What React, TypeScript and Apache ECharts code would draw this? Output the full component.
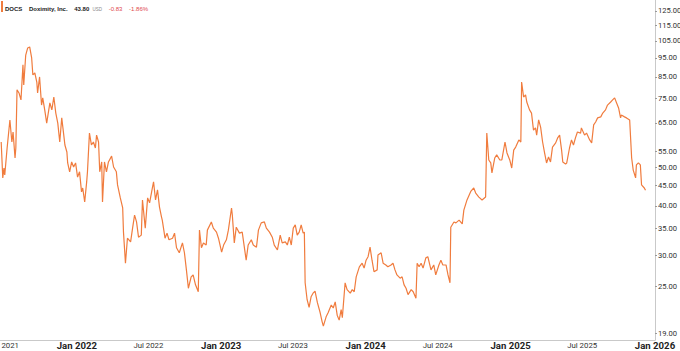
import React, { useEffect, useRef } from "react";
import * as echarts from "echarts";

const dates: string[] = [
  "2021-06-24","2021-06-28","2021-07-01","2021-07-03","2021-07-09","2021-07-16","2021-07-21","2021-07-24","2021-07-29","2021-07-31",
  "2021-08-03","2021-08-08","2021-08-13","2021-08-18","2021-08-20","2021-08-25","2021-08-30","2021-09-04","2021-09-09","2021-09-12",
  "2021-09-17","2021-09-22","2021-09-24","2021-09-29","2021-10-04","2021-10-07","2021-10-12","2021-10-17","2021-10-25","2021-10-30",
  "2021-11-04","2021-11-09","2021-11-14","2021-11-19","2021-11-24","2021-11-27","2021-12-02","2021-12-07","2021-12-09","2021-12-14",
  "2021-12-19","2021-12-24","2021-12-29","2022-01-03","2022-01-08","2022-01-13","2022-01-16","2022-01-21","2022-01-26","2022-01-28",
  "2022-02-02","2022-02-07","2022-02-12","2022-02-17","2022-02-20","2022-02-25","2022-02-28","2022-03-05","2022-03-07","2022-03-12",
  "2022-03-17","2022-03-22","2022-03-30","2022-04-04","2022-04-11","2022-04-14","2022-04-21","2022-04-27","2022-04-29","2022-05-04",
  "2022-05-09","2022-05-17","2022-05-22","2022-05-27","2022-06-01","2022-06-06",
  "2022-06-13","2022-06-16","2022-06-23","2022-06-29","2022-07-04","2022-07-11","2022-07-14","2022-07-19","2022-07-24","2022-07-29",
  "2022-08-03","2022-08-05","2022-08-12","2022-08-17","2022-08-22","2022-08-31","2022-09-05","2022-09-10","2022-09-17","2022-09-25",
  "2022-09-30","2022-10-05","2022-10-10","2022-10-17","2022-10-22","2022-10-28","2022-11-04","2022-11-07","2022-11-12","2022-11-17",
  "2022-11-24","2022-11-27","2022-12-07","2022-12-12","2022-12-20","2022-12-25","2023-01-02","2023-01-07","2023-01-14","2023-01-19",
  "2023-01-27","2023-01-29","2023-02-03","2023-02-08","2023-02-16","2023-02-23","2023-03-05","2023-03-10","2023-03-18","2023-03-23",
  "2023-03-31","2023-04-05","2023-04-12","2023-04-20","2023-04-25","2023-05-03","2023-05-10","2023-05-15","2023-05-23","2023-05-30",
  "2023-06-04","2023-06-12","2023-06-17","2023-06-22",
  "2023-06-27","2023-07-02","2023-07-07","2023-07-12","2023-07-17","2023-07-22","2023-07-27","2023-07-30","2023-08-01","2023-08-06",
  "2023-08-11","2023-08-16","2023-08-21","2023-08-26","2023-09-01","2023-09-08","2023-09-13","2023-09-16","2023-09-23","2023-09-28",
  "2023-10-06","2023-10-11","2023-10-16","2023-10-21","2023-10-26","2023-10-31","2023-11-03","2023-11-10","2023-11-15","2023-11-23",
  "2023-11-28","2023-12-03","2023-12-08","2023-12-16","2023-12-23","2023-12-28","2024-01-02","2024-01-07","2024-01-12","2024-01-17",
  "2024-01-22","2024-01-30","2024-02-01","2024-02-09","2024-02-14","2024-02-21","2024-02-26","2024-03-05","2024-03-10","2024-03-15",
  "2024-03-20","2024-03-28","2024-04-02","2024-04-07","2024-04-12","2024-04-17","2024-04-25","2024-04-30","2024-05-07","2024-05-10",
  "2024-05-15","2024-05-20","2024-05-25","2024-06-01","2024-06-06",
  "2024-06-14","2024-06-21","2024-06-26","2024-07-04","2024-07-09","2024-07-14","2024-07-22","2024-07-27","2024-08-01","2024-08-03",
  "2024-08-11","2024-08-16","2024-08-24","2024-09-01","2024-09-05","2024-09-13","2024-09-23","2024-09-30","2024-10-05","2024-10-13",
  "2024-10-21","2024-10-30","2024-11-02","2024-11-07","2024-11-12","2024-11-15","2024-11-22","2024-11-27","2024-12-05","2024-12-10",
  "2024-12-18","2024-12-23","2024-12-30","2025-01-04","2025-01-09","2025-01-14","2025-01-22","2025-01-27","2025-01-29","2025-02-03",
  "2025-02-08","2025-02-11","2025-02-18","2025-02-23","2025-02-28","2025-03-05","2025-03-08","2025-03-13","2025-03-18","2025-03-23",
  "2025-03-28","2025-04-02","2025-04-07","2025-04-12","2025-04-17","2025-04-25","2025-04-30","2025-05-05","2025-05-10","2025-05-13",
  "2025-05-20","2025-05-23","2025-05-30","2025-06-04","2025-06-09","2025-06-14","2025-06-19","2025-06-27","2025-06-29","2025-07-07",
  "2025-07-12","2025-07-20","2025-07-25","2025-07-30","2025-08-04","2025-08-09","2025-08-17","2025-08-22","2025-08-29","2025-09-03",
  "2025-09-11","2025-09-16","2025-09-21","2025-09-26","2025-10-01","2025-10-06","2025-10-08","2025-10-16","2025-10-21","2025-10-29",
  "2025-11-03","2025-11-07","2025-11-13","2025-11-15","2025-11-20","2025-11-25","2025-11-28","2025-12-05","2025-12-08",
];

const prices: number[] = [
  58.1,47.1,49.9,47.9,56.1,66.1,58.1,61.6,52.9,56.1,
  78.8,77.4,74.3,91.2,81.1,96.6,100.7,101.3,95.0,86.0,
  87.0,82.5,77.4,85.0,72.1,75.2,70.1,64.9,73.0,70.1,
  75.6,68.8,64.9,58.1,66.9,63.1,57.1,54.8,51.4,48.8,
  51.7,50.2,51.4,47.3,48.8,43.4,44.4,40.9,46.0,48.8,
  61.2,57.1,58.1,56.1,60.5,58.1,48.8,51.7,40.9,51.7,
  48.8,51.7,53.5,50.2,48.8,45.2,41.9,39.5,34.3,28.6,
  33.1,32.4,35.1,37.9,36.4,33.3,
  33.7,41.4,35.1,41.9,40.7,44.4,46.0,41.4,43.9,39.7,
  37.5,36.8,33.1,34.1,32.8,33.1,34.1,31.3,30.4,32.2,
  30.4,27.5,24.7,26.4,26.7,25.2,24.2,34.7,31.3,32.2,
  31.8,34.7,36.4,35.1,34.3,33.1,30.5,31.8,32.8,34.7,
  39.5,37.9,32.2,35.3,34.1,34.3,29.1,31.8,32.8,31.8,
  31.4,34.7,36.2,36.4,35.1,34.3,33.3,31.8,30.9,33.7,
  32.2,32.4,31.8,33.3,
  31.8,35.1,35.8,33.7,34.3,35.8,34.1,34.3,25.5,23.1,
  22.1,23.5,24.0,24.3,22.7,21.4,20.3,19.8,20.9,21.4,
  22.4,22.0,22.8,21.1,20.5,21.8,20.8,25.5,24.5,24.0,
  24.5,24.2,26.4,28.0,28.6,27.8,29.1,29.7,31.4,29.1,
  27.2,27.5,30.0,30.4,28.6,28.3,28.0,28.3,28.6,27.5,
  26.7,26.2,26.4,25.2,24.7,23.8,24.5,24.2,23.3,28.6,
  28.0,28.6,27.8,29.5,29.7,
  27.5,28.3,26.7,28.3,29.1,28.3,28.3,26.7,25.5,35.3,
  36.4,36.2,36.8,36.0,39.0,41.4,43.6,44.4,43.1,42.1,
  41.4,42.1,61.2,52.3,51.4,48.5,52.9,53.9,52.3,52.3,
  58.1,54.5,52.3,49.9,55.4,56.4,58.8,58.1,82.5,75.6,
  76.5,73.4,70.1,68.8,62.3,63.1,60.5,66.1,63.4,58.1,
  54.5,51.4,53.2,51.7,56.4,57.8,59.5,60.5,55.4,51.7,
  51.1,51.4,56.1,58.8,57.1,59.5,61.6,61.2,63.1,60.5,
  61.2,58.8,57.8,64.2,65.3,66.9,67.3,68.8,70.1,72.1,
  73.4,74.3,75.2,73.0,70.9,66.9,68.0,67.3,66.9,66.1,
  52.9,49.3,47.1,50.8,51.4,50.8,45.2,44.4,43.8,
];

const yTicks: number[] = [19, 25, 30, 35, 40, 45, 50, 55, 65, 75, 85, 95, 105, 115, 125];
const xTicks: string[] = [
  "2021-07-01","2022-01-01","2022-07-01","2023-01-01","2023-07-01",
  "2024-01-01","2024-07-01","2025-01-01","2025-07-01","2026-01-01",
];
const lastPrice = 43.8;
const ticker = "DOCS";
const companyName = "Doximity, Inc.";
const change = "-0.83";
const changePct = "-1.86%";

const ORANGE = "#F07C3E";
const MONTHS = ["Jan","Feb","Mar","Apr","May","Jun","Jul","Aug","Sep","Oct","Nov","Dec"];

function parseLocal(s: string): number {
  const [y, m, d] = s.split("-").map(Number);
  return new Date(y, m - 1, d).getTime();
}

export default function App() {
  const ref = useRef<HTMLDivElement>(null);
  useEffect(() => {
    if (!ref.current) return;
    const chart = echarts.init(ref.current, undefined, { renderer: "svg" });
    const data = dates.map((d, i) => [parseLocal(d), prices[i]]);
    chart.setOption({
      animation: false,
      textStyle: { fontFamily: "Roboto, 'Liberation Sans', sans-serif" },
      grid: { left: 0, right: 25, top: 0, bottom: 11, containLabel: false, outerBoundsMode: "none" },
      xAxis: {
        type: "value",
        min: parseLocal("2021-06-21"),
        max: parseLocal("2026-01-01"),
        axisLine: { show: true, lineStyle: { color: "#c9c9c9", width: 1 } },
        axisTick: { show: false },
        splitLine: { show: false },
        axisLabel: {
          customValues: xTicks.map(parseLocal),
          hideOverlap: false,
          showMinLabel: true,
          showMaxLabel: true,
          margin: 0,
          lineHeight: 10,
          formatter: (v: number) => {
            const d = new Date(v);
            const txt = MONTHS[d.getMonth()] + " " + d.getFullYear();
            return d.getMonth() === 0 ? "{b|" + txt + "}" : "{r|" + txt + "}";
          },
          rich: {
            b: { fontSize: 9.6, lineHeight: 10, fontWeight: "bold", color: "#1f1f1f", fontFamily: "Roboto, sans-serif" },
            r: { fontSize: 7.8, lineHeight: 10, color: "#333", fontFamily: "Roboto, sans-serif" },
          },
        },
      },
      yAxis: {
        type: "log",
        position: "right",
        min: 18.25,
        max: 133.3,
        axisLine: { show: true, lineStyle: { color: "#c9c9c9", width: 1 } },
        axisTick: { show: true, customValues: yTicks, length: 2, lineStyle: { color: "#999" } },
        splitLine: { show: false },
        axisLabel: {
          customValues: yTicks,
          margin: 3,
          fontSize: 7.6,
          color: "#333",
          formatter: (v: number) => Number(v).toFixed(2),
        },
      },
      graphic: [
        { type: "rect", left: 0, top: 0, shape: { width: 118, height: 13 }, style: { fill: "rgba(255,255,255,0.9)" } },
        { type: "rect", left: 1, top: 1, shape: { width: 2, height: 11 }, style: { fill: ORANGE } },
        {
          type: "text",
          left: 5,
          top: 3,
          style: {
            text: `{t|${ticker}}  {n|${companyName}}  {p|43.80} {u|USD}  {c|${change}}  {c|${changePct}}`,
            rich: {
              t: { fontSize: 6, fontWeight: "bold", fill: "#222" },
              n: { fontSize: 6, fontWeight: "bold", fill: "#222" },
              p: { fontSize: 6, fontWeight: "bold", fill: "#222" },
              u: { fontSize: 4.5, fill: "#888" },
              c: { fontSize: 6, fill: "#e0484d" },
            },
          },
        },
      ],
      series: [
        {
          type: "line",
          data,
          showSymbol: false,
          symbol: "none",
          lineStyle: { color: ORANGE, width: 1.2 },
          markLine: {
            silent: true,
            symbol: "none",
            lineStyle: { opacity: 0 },
            data: [{ yAxis: lastPrice }],
            label: {
              position: "end",
              distance: 1,
              formatter: () => lastPrice.toFixed(2),
              color: "#fff",
              fontSize: 7.8,
              backgroundColor: ORANGE,
              padding: [1, 4, 1, 3],
            },
          },
        },
      ],
    });
    return () => chart.dispose();
  }, []);
  return (
    <div
      ref={ref}
      style={{ position: "fixed", left: 0, top: 0, width: 680, height: 351, background: "#fff" }}
    />
  );
}
